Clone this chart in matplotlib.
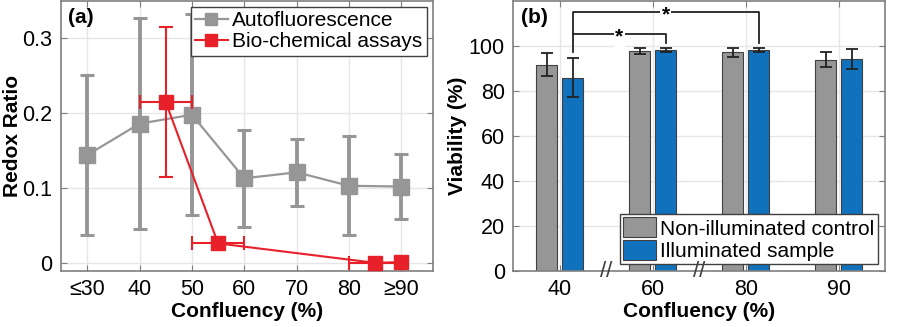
import matplotlib
matplotlib.use("Agg")
import matplotlib.pyplot as plt
from matplotlib.lines import Line2D
import numpy as np

plt.rcParams["font.family"] = ["Liberation Sans", "DejaVu Sans"]

# (a) redox ratio vs confluency
auto_x = [30, 40, 50, 60, 70, 80, 90]
auto_y = [0.144, 0.186, 0.198, 0.113, 0.121, 0.103, 0.102]
auto_err = [0.107, 0.141, 0.134, 0.065, 0.045, 0.066, 0.044]

bio_x = [45, 55, 85, 90]
bio_y = [0.215, 0.026, 0.000, 0.001]
bio_yerr = [0.100, 0.005, 0.002, 0.002]
bio_xerr = [5, 5, 5, 0]

a_ticks = [30, 40, 50, 60, 70, 80, 90]
a_ticklabels = ["≤30", "40", "50", "60", "70", "80", "≥90"]

# (b) viability
b_groups = ["40", "60", "80", "90"]
ctrl_val = [91.7, 97.8, 97.3, 94.0]
ctrl_err = [5.0, 1.2, 2.0, 3.3]
illum_val = [86.0, 98.1, 98.2, 94.1]
illum_err = [8.5, 0.8, 1.0, 4.4]

GRAY = "#969696"
RED = "#e8202a"
BLUE = "#1071bd"
EDGE = "#7f7f7f"

fig = plt.figure(figsize=(9.23, 3.27), dpi=100)
ax1 = fig.add_axes([0.066, 0.171, 0.403, 0.826])
ax2 = fig.add_axes([0.556, 0.171, 0.403, 0.826])


def style_axes(ax):
    ax.grid(True, color="#e6e6e6", linewidth=1.0)
    ax.set_axisbelow(True)
    for s in ax.spines.values():
        s.set_color(EDGE)
        s.set_linewidth(1.2)
    ax.tick_params(direction="in", top=True, right=True, length=4, width=0.8,
                   color=EDGE, labelsize=15.5, pad=6)


# panel a
style_axes(ax1)
ax1.errorbar(auto_x, auto_y, yerr=auto_err, color=GRAY, marker="s", markersize=11,
             linewidth=1.6, elinewidth=2.8, capsize=5, capthick=2.2, zorder=3)
ax1.errorbar(bio_x, bio_y, yerr=bio_yerr, xerr=bio_xerr, color=RED, marker="s",
             markersize=10, linewidth=1.5, elinewidth=1.5, capsize=5, capthick=1.5,
             zorder=4)
ax1.set_xlim(25, 96)
ax1.set_ylim(-0.011, 0.35)
ax1.set_xticks(a_ticks)
ax1.set_xticklabels(a_ticklabels)
ax1.set_yticks([0, 0.1, 0.2, 0.3])
ax1.set_yticklabels(["0", "0.1", "0.2", "0.3"])
ax1.set_xlabel("Confluency (%)", fontsize=15, fontweight="bold", labelpad=1)
ax1.set_ylabel("Redox Ratio", fontsize=15, fontweight="bold", labelpad=0)
ax1.text(0.02, 0.975, "(a)", transform=ax1.transAxes, fontsize=15, fontweight="bold",
         va="top", ha="left")
handles1 = [
    Line2D([], [], color=GRAY, marker="s", markersize=9, linewidth=1.6),
    Line2D([], [], color=RED, marker="s", markersize=9, linewidth=1.5),
]
leg1 = ax1.legend(handles1, ["Autofluorescence", "Bio-chemical assays"], loc="upper right",
                  fontsize=15, handlelength=1.6, handletextpad=0.2, borderpad=0.2,
                  labelspacing=0.1, borderaxespad=0.3, fancybox=False, framealpha=1)
leg1.get_frame().set_edgecolor("#404040")
leg1.get_frame().set_linewidth(1.0)

# panel b
style_axes(ax2)
pos = np.arange(1, len(b_groups) + 1)
w = 0.23
ax2.bar(pos - 0.14, ctrl_val, w, color=GRAY, edgecolor="#404040", linewidth=0.8,
        label="Non-illuminated control", zorder=2)
ax2.bar(pos + 0.14, illum_val, w, color=BLUE, edgecolor="#404040", linewidth=0.8,
        label="Illuminated sample", zorder=2)
ax2.errorbar(pos - 0.14, ctrl_val, yerr=ctrl_err, fmt="none", ecolor="#222222",
             elinewidth=1.3, capsize=4, capthick=1.3, zorder=3)
ax2.errorbar(pos + 0.14, illum_val, yerr=illum_err, fmt="none", ecolor="#222222",
             elinewidth=1.3, capsize=4, capthick=1.3, zorder=3)
ax2.set_xlim(0.5, 4.5)
ax2.set_ylim(0, 120)
ax2.set_xticks(pos)
ax2.set_xticklabels(b_groups)
ax2.set_yticks([0, 20, 40, 60, 80, 100])
ax2.set_xlabel("Confluency (%)", fontsize=15, fontweight="bold", labelpad=1)
ax2.set_ylabel("Viability (%)", fontsize=15, fontweight="bold", labelpad=1)
ax2.text(0.02, 0.975, "(b)", transform=ax2.transAxes, fontsize=15, fontweight="bold",
         va="top", ha="left")

# significance brackets
x40 = pos[0] + 0.14
x60 = pos[1] + 0.14
x80 = pos[2] + 0.14
ax2.plot([x40, x40, x60, x60], [97.5, 105.2, 105.2, 101.5], color="#222222",
         linewidth=1.3, zorder=4)
ax2.plot([x40, x40, x80, x80], [105.2, 115, 115, 101.5], color="#222222",
         linewidth=1.3, zorder=4)
ax2.text((x40 + x60) / 2, 104.0, "*", ha="center", va="center", fontsize=15,
         fontweight="bold", zorder=5,
         bbox=dict(facecolor="white", edgecolor="none", pad=1))
ax2.text((x40 + x80) / 2, 113.8, "*", ha="center", va="center", fontsize=15,
         fontweight="bold", zorder=5,
         bbox=dict(facecolor="white", edgecolor="none", pad=1))

# axis break marks
for xb in [1.5, 2.5]:
    ax2.text(xb, 0, "//", ha="center", va="center", fontsize=16, color="#404040",
             clip_on=False, zorder=6)

leg2 = ax2.legend(loc="lower right", fontsize=15, handlelength=1.6, handleheight=1.1,
                  handletextpad=0.2, borderpad=0.15, labelspacing=0.05,
                  borderaxespad=0.35, fancybox=False, framealpha=1)
leg2.get_frame().set_edgecolor("#404040")
leg2.get_frame().set_linewidth(1.0)

fig.savefig("out.png", dpi=100)
